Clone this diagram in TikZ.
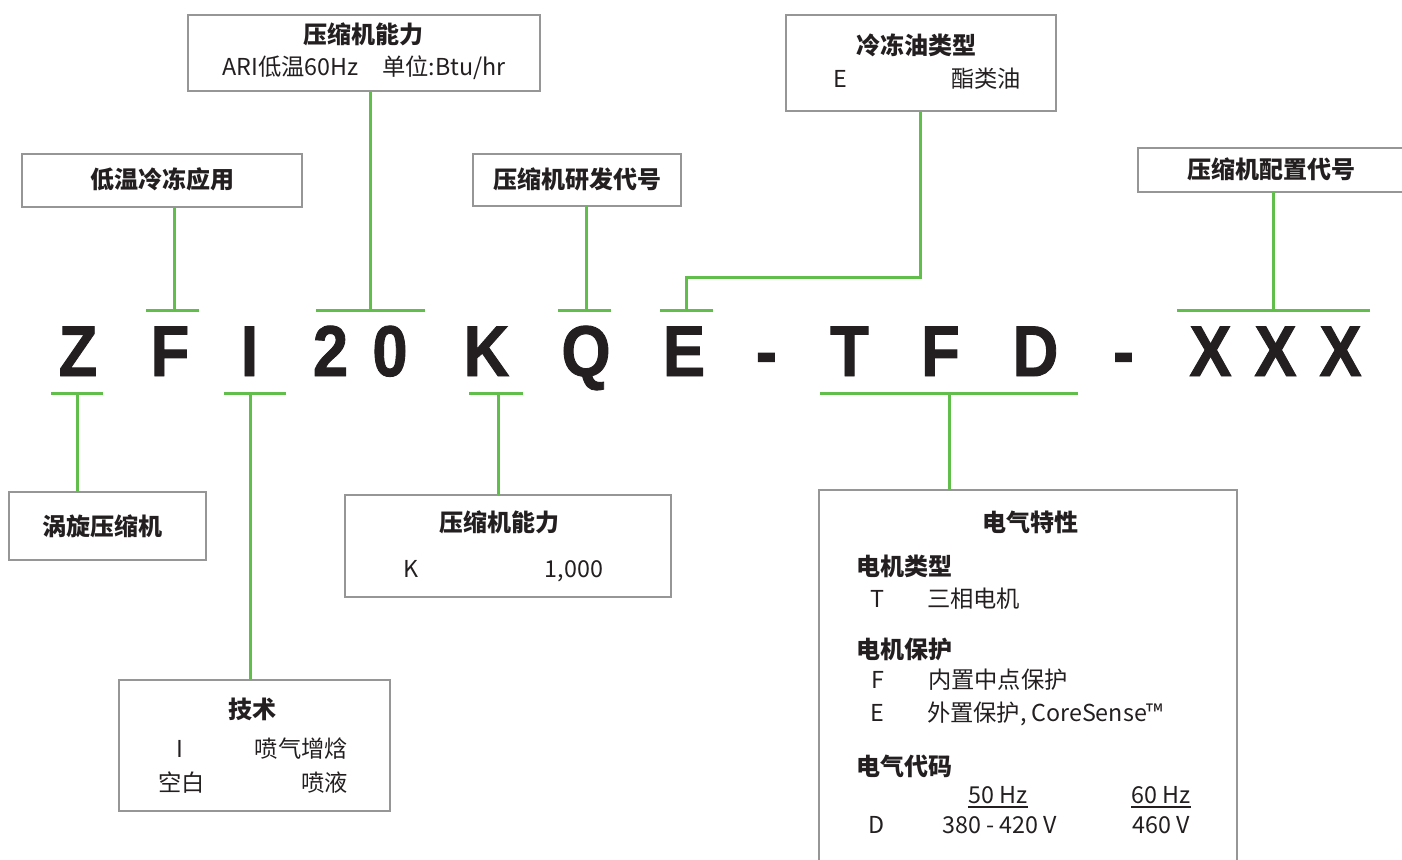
\documentclass[tikz,border=0pt]{standalone}
\usepackage{fontspec}
\setmainfont{Noto Sans CJK SC}
\newfontfamily\codefont[FakeStretch=0.88,FakeBold=1.2]{Liberation Sans}
\definecolor{lg}{RGB}{98,190,75}
\definecolor{bx}{RGB}{150,150,150}
\definecolor{tx}{RGB}{35,31,32}
\begin{document}
\begin{tikzpicture}[x=1pt,y=-1pt,
  box/.style={draw=bx, line width=1.2pt, inner sep=0pt, outer sep=0pt},
  conn/.style={draw=lg, line width=3pt},
  lab/.style={inner sep=0pt, outer sep=0pt, text=tx, font=\fontsize{23.3}{23}\selectfont},
  ttl/.style={inner sep=0pt, outer sep=0pt, text=tx, font=\fontsize{24}{24}\selectfont\bfseries},
  code/.style={inner sep=0pt, outer sep=0pt, text=tx, anchor=base, font=\fontsize{72}{72}\selectfont\codefont\bfseries},
  uline/.style={draw=tx, line width=1.2pt}
]
\useasboundingbox (0,0) rectangle (1402,859);

% boxes
\node[box, minimum width=280, minimum height=53] (b1) at (162,180.5) {};
\node[box, minimum width=352, minimum height=76] (b2) at (364,53) {};
\node[box, minimum width=208, minimum height=52] (b3) at (577,180) {};
\node[box, minimum width=270, minimum height=96] (b4) at (921,63) {};
\node[box, minimum width=272, minimum height=44] (b5) at (1274,170) {};
\node[box, minimum width=197, minimum height=68] (b6) at (107.5,526) {};
\node[box, minimum width=326, minimum height=102] (b7) at (508,546) {};
\node[box, minimum width=271, minimum height=131] (b8) at (254.5,745.5) {};
\node[box, minimum width=418, minimum height=420] (b9) at (1028,700) {};

% code letters
\node[code] (cZ) at (78,376) {Z};
\node[code] (cF) at (170,376) {F};
\node[code] (cI) at (249.5,376) {I};
\node[code] (c2) at (330.5,376) {2};
\node[code] (c0) at (390,376) {0};
\node[code] (cK) at (486.5,376) {K};
\node[code] (cQ) at (586,376) {Q};
\node[code] (cE) at (684,376) {E};
\node[code] (cd1) at (766.5,376) {-};
\node[code] (cT) at (849.5,376) {T};
\node[code] (cF2) at (940.5,376) {F};
\node[code] (cD) at (1035.5,376) {D};
\node[code] (cd2) at (1123.5,376) {-};
\node[code] (cX1) at (1210.5,376) {X};
\node[code] (cX2) at (1275.5,376) {X};
\node[code] (cX3) at (1340.5,376) {X};

% bar coordinates (top)
\coordinate (tF) at (174,310);   \coordinate (tFl) at (146,310);  \coordinate (tFr) at (199,310);
\coordinate (t20) at (370,310);  \coordinate (t20l) at (316,310); \coordinate (t20r) at (425,310);
\coordinate (tQ) at (586.5,310); \coordinate (tQl) at (558,310);  \coordinate (tQr) at (611,310);
\coordinate (tE) at (686.5,310); \coordinate (tEl) at (660,310);  \coordinate (tEr) at (713,310);
\coordinate (tX) at (1273,310);  \coordinate (tXl) at (1177,310); \coordinate (tXr) at (1370,310);
\coordinate (eK1) at (686.5,277); \coordinate (eK2) at (920,277);
% bar coordinates (bottom)
\coordinate (bZ) at (77,393);    \coordinate (bZl) at (51,393);   \coordinate (bZr) at (103,393);
\coordinate (bI) at (250.5,393); \coordinate (bIl) at (224,393);  \coordinate (bIr) at (286,393);
\coordinate (bK) at (498,393);   \coordinate (bKl) at (469,393);  \coordinate (bKr) at (523,393);
\coordinate (bT) at (949,393);   \coordinate (bTl) at (820,393);  \coordinate (bTr) at (1078,393);

% bars
\draw[conn] (tFl) -- (tFr);
\draw[conn] (t20l) -- (t20r);
\draw[conn] (tQl) -- (tQr);
\draw[conn] (tEl) -- (tEr);
\draw[conn] (tXl) -- (tXr);
\draw[conn] (bZl) -- (bZr);
\draw[conn] (bIl) -- (bIr);
\draw[conn] (bKl) -- (bKr);
\draw[conn] (bTl) -- (bTr);

% connectors
\draw[conn] (b1.south -| tF) -- (tF);
\draw[conn] (b2.south -| t20) -- (t20);
\draw[conn] (b3.south -| tQ) -- (tQ);
\draw[conn] (tE) -- (eK1) -- (eK2) -- (b4.south -| eK2);
\draw[conn] (b5.south -| tX) -- (tX);
\draw[conn] (bZ) -- (b6.north -| bZ);
\draw[conn] (bI) -- (b8.north -| bI);
\draw[conn] (bK) -- (b7.north -| bK);
\draw[conn] (bT) -- (b9.north -| bT);

% texts
\node[ttl, anchor=base] (t1) at (162,188) {低温冷冻应用};
\node[ttl, anchor=base] (t2a) at (363,44) {压缩机能力};
\node[lab, anchor=base] (t2b) at (364,75) {ARI低温60Hz\hspace{1em}单位:Btu/hr};
\node[ttl, anchor=base] (t3) at (577,188) {压缩机研发代号};
\node[ttl, anchor=base] (t4a) at (916.5,55) {冷冻油类型};
\node[lab, anchor=base west] (t4b) at (833,88) {E};
\node[lab, anchor=base] (t4c) at (986,88) {酯类油};
\node[ttl, anchor=base] (t5) at (1271,178) {压缩机配置代号};
\node[ttl, anchor=base] (t6) at (102,535) {涡旋压缩机};
\node[ttl, anchor=base] (t7a) at (499.5,531) {压缩机能力};
\node[lab, anchor=base west] (t7b) at (403,577) {K};
\node[lab, anchor=base east] (t7c) at (603,577) {1,000};
\node[ttl, anchor=base] (t8a) at (252.5,718) {技术};
\node[lab, anchor=base] (t8b) at (179.5,757) {I};
\node[lab, anchor=base east] (t8c) at (348,757) {喷气增焓};
\node[lab, anchor=base] (t8d) at (181.5,791) {空白};
\node[lab, anchor=base east] (t8e) at (348,791) {喷液};
\node[ttl, anchor=base] (t9) at (1030,531) {电气特性};
\node[ttl, anchor=base west] (t9a) at (856,575) {电机类型};
\node[lab, anchor=base] (t9b) at (877,607.5) {T};
\node[lab, anchor=base west] (t9c) at (927,607.5) {三相电机};
\node[ttl, anchor=base west] (t9d) at (856,658) {电机保护};
\node[lab, anchor=base] (t9e) at (877.5,688) {F};
\node[lab, anchor=base west] (t9f) at (928,688) {内置中点保护};
\node[lab, anchor=base] (t9g) at (877,721) {E};
\node[lab, anchor=base west] (t9h) at (927,721) {外置保护, CoreSense™};
\node[ttl, anchor=base west] (t9i) at (856,775) {电气代码};
\node[lab, anchor=base] (h50) at (998,803) {50 Hz};
\node[lab, anchor=base] (h60) at (1161,803) {60 Hz};
\node[lab, anchor=base] (t9j) at (877,833) {D};
\node[lab, anchor=base] (t9k) at (999.5,833) {380 - 420 V};
\node[lab, anchor=base] (t9l) at (1161,833) {460 V};
\draw[uline] ([yshift=-4pt]h50.base west) -- ([yshift=-4pt]h50.base east);
\draw[uline] ([yshift=-4pt]h60.base west) -- ([yshift=-4pt]h60.base east);
\end{tikzpicture}
\end{document}
